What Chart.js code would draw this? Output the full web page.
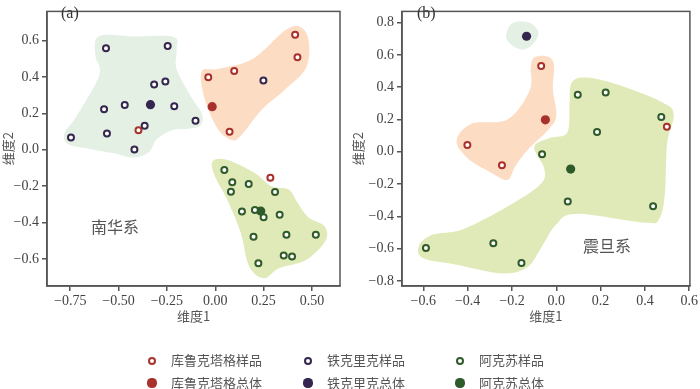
<!DOCTYPE html>
<html>
<head>
<meta charset="utf-8">
<script src="https://cdn.jsdelivr.net/npm/chart.js@4"></script>
<style>
body { margin: 0; background: #fff; }
#wrap { position: relative; width: 700px; height: 389px; overflow: hidden; font-family: "Liberation Serif", serif; }
.box { position: absolute; top: 0; width: 350px; height: 330px; }
.note { position: absolute; color: #555; font-size: 16px; font-family: "Noto Sans CJK SC", sans-serif; }
.tag { position: absolute; color: #333; font-size: 16px; font-family: "Liberation Serif", serif; }
#legend { position: absolute; left: 0; top: 346px; width: 700px; font-family: "Noto Sans CJK SC", sans-serif; font-size: 13px; color: #555; }
.item { position: absolute; white-space: nowrap; line-height: 14px; }
.mk { position: absolute; box-sizing: border-box; border-radius: 50%; }
</style>
</head>
<body>
<div id="wrap">
  <div class="box" style="left:0"><canvas id="chartA" width="350" height="330"></canvas></div>
  <div class="box" style="left:350px"><canvas id="chartB" width="350" height="330"></canvas></div>
  <div class="tag" style="left:61px;top:4px">(a)</div>
  <div class="tag" style="left:417px;top:4px">(b)</div>
  <div class="note" style="left:91px;top:214px">南华系</div>
  <div class="note" style="left:583px;top:233px">震旦系</div>
  <div id="legend"></div>
</div>
<script>
// colours
const RED = '#a8322b', PURPLE = '#34264f', GREEN = '#2f5a2a';
const MINT = '#e4f0e4', PEACH = '#fddcc4', LIME = '#e0eab8';

// ---- plot (a) 南华系 ----
const kuluSamplesA = [[-0.397,0.107],[-0.036,0.399],[0.098,0.433],[0.413,0.632],[0.425,0.508],[0.074,0.099],[0.285,-0.153]];
const kuluTotalA = [[-0.016,0.237]];
const tiekeSamplesA = [[-0.565,0.558],[-0.246,0.570],[-0.316,0.359],[-0.258,0.375],[-0.575,0.223],[-0.468,0.246],[-0.212,0.239],[-0.102,0.160],[-0.365,0.132],[-0.560,0.090],[-0.746,0.067],[-0.418,0.002],[0.249,0.380]];
const tiekeTotalA = [[-0.335,0.248]];
const akesuSamplesA = [[0.047,-0.111],[0.088,-0.178],[0.173,-0.188],[0.081,-0.231],[0.309,-0.232],[0.138,-0.339],[0.205,-0.331],[0.250,-0.371],[0.333,-0.357],[0.198,-0.477],[0.368,-0.466],[0.520,-0.466],[0.354,-0.580],[0.397,-0.586],[0.223,-0.623]];
const akesuTotalA = [[0.235,-0.336]];

const tiekeHullA = [[-0.6,0.625],[-0.41,0.622],[-0.215,0.62],[-0.2,0.55],[-0.2,0.443],[-0.13,0.3],[-0.07,0.2],[-0.075,0.135],[-0.14,0.115],[-0.22,0.109],[-0.3,0.06],[-0.345,-0.015],[-0.427,-0.043],[-0.53,-0.018],[-0.65,0.005],[-0.76,0.03],[-0.78,0.09],[-0.72,0.18],[-0.6,0.408],[-0.62,0.52]];
const kuluHullA = [[-0.07,0.43],[0.02,0.445],[0.195,0.5],[0.36,0.655],[0.44,0.675],[0.483,0.6],[0.47,0.45],[0.36,0.33],[0.24,0.22],[0.13,0.075],[0.08,0.055],[0.01,0.12],[-0.055,0.28]];
const akesuHullA = [[-0.015,-0.065],[0.06,-0.055],[0.2,-0.125],[0.29,-0.2],[0.38,-0.218],[0.425,-0.29],[0.48,-0.37],[0.565,-0.42],[0.57,-0.5],[0.47,-0.605],[0.33,-0.65],[0.25,-0.705],[0.175,-0.64],[0.13,-0.45],[0.06,-0.27],[0.0,-0.15]];

const xTicksA = [-0.75,-0.5,-0.25,0,0.25,0.5];
const yTicksA = [-0.6,-0.4,-0.2,0,0.2,0.4,0.6];

// ---- plot (b) 震旦系 ----
const kuluSamplesB = [[-0.068,0.532],[-0.401,0.042],[-0.245,-0.083],[0.499,0.155]];
const kuluTotalB = [[-0.049,0.198]];
const tiekeSamplesB = [];
const tiekeTotalB = [[-0.134,0.716]];
const akesuSamplesB = [[0.097,0.353],[0.223,0.367],[0.474,0.216],[0.184,0.123],[-0.064,-0.016],[0.052,-0.308],[0.437,-0.337],[-0.588,-0.597],[-0.284,-0.567],[-0.157,-0.690]];
const akesuTotalB = [[0.065,-0.107]];

const tiekeHullB = [[-0.2,0.795],[-0.12,0.8],[-0.08,0.735],[-0.115,0.655],[-0.165,0.635],[-0.225,0.7]];
const kuluHullB = [[-0.1,0.585],[-0.04,0.59],[-0.01,0.54],[-0.015,0.39],[0.0,0.22],[-0.04,0.13],[-0.13,0.01],[-0.185,-0.09],[-0.22,-0.175],[-0.3,-0.125],[-0.4,-0.04],[-0.45,0.07],[-0.38,0.175],[-0.22,0.2],[-0.12,0.38],[-0.115,0.52]];
const akesuHullB = [[0.07,0.43],[0.14,0.46],[0.29,0.41],[0.48,0.305],[0.53,0.23],[0.5,0.05],[0.49,-0.26],[0.465,-0.415],[0.4,-0.44],[0.09,-0.385],[0.0,-0.45],[-0.07,-0.6],[-0.13,-0.715],[-0.24,-0.755],[-0.45,-0.7],[-0.6,-0.66],[-0.62,-0.585],[-0.56,-0.515],[-0.42,-0.48],[-0.22,-0.34],[-0.07,-0.2],[-0.055,-0.1],[-0.1,0.03],[-0.03,0.085],[0.05,0.12],[0.06,0.3]];

const xTicksB = [-0.6,-0.4,-0.2,0,0.2,0.4,0.6];
const yTicksB = [-0.8,-0.6,-0.4,-0.2,0,0.2,0.4,0.6,0.8];

const legendLabels = ['库鲁克塔格样品','铁克里克样品','阿克苏样品','库鲁克塔格总体','铁克里克总体','阿克苏总体'];

const toXY = arr => arr.map(p => ({x: p[0], y: p[1]}));
const fmt = (v, d) => (v < 0 ? '\u2212' : '') + Math.abs(v).toFixed(d);

// smooth closed blobs (catmull-rom through the outline) behind the points, plus the box frame
const blobPlugin = {
  id: 'blobs',
  beforeDatasetsDraw(chart) {
    const {ctx, scales: {x, y}, chartArea: a} = chart;
    ctx.save();
    ctx.beginPath();
    ctx.rect(a.left, a.top, a.right - a.left, a.bottom - a.top);
    ctx.clip();
    chart.options.plugins.blobs.shapes.forEach(s => {
      const pts = s.pts.map(p => [x.getPixelForValue(p[0]), y.getPixelForValue(p[1])]);
      const n = pts.length;
      const P = i => pts[(i + n) % n];
      ctx.beginPath();
      ctx.moveTo(pts[0][0], pts[0][1]);
      for (let i = 0; i < n; i++) {
        const p0 = P(i - 1), p1 = P(i), p2 = P(i + 1), p3 = P(i + 2);
        ctx.bezierCurveTo(
          p1[0] + (p2[0] - p0[0]) / 6, p1[1] + (p2[1] - p0[1]) / 6,
          p2[0] - (p3[0] - p1[0]) / 6, p2[1] - (p3[1] - p1[1]) / 6,
          p2[0], p2[1]);
      }
      ctx.closePath();
      ctx.fillStyle = s.color;
      ctx.fill();
    });
    ctx.restore();
  },
  afterDraw(chart) {
    const {ctx, chartArea: a} = chart;
    ctx.save();
    ctx.strokeStyle = '#555';
    ctx.lineWidth = 1.5;
    ctx.strokeRect(a.left, a.top, a.right - a.left, a.bottom - a.top);
    ctx.restore();
  }
};

const ring = (data, color) => ({data: toXY(data), pointRadius: 3, pointBorderWidth: 2, borderColor: color, pointBorderColor: color, pointBackgroundColor: '#fff', pointHoverRadius: 3});
const dot = (data, color) => ({data: toXY(data), pointRadius: 4.6, pointBorderWidth: 0, pointBackgroundColor: color, borderColor: color, pointHoverRadius: 4.6});

const makeChart = (id, cfg) => new Chart(document.getElementById(id), {
  type: 'scatter',
  data: {datasets: [
    ring(cfg.kulu, RED), ring(cfg.tieke, PURPLE), ring(cfg.akesu, GREEN),
    dot(cfg.kuluT, RED), dot(cfg.tiekeT, PURPLE), dot(cfg.akesuT, GREEN)
  ]},
  plugins: [blobPlugin],
  options: {
    responsive: false,
    animation: false,
    layout: {padding: {top: 1, right: cfg.padRight, left: 0, bottom: 0}},
    plugins: {
      legend: {display: false},
      tooltip: {enabled: false},
      blobs: {shapes: cfg.hulls}
    },
    scales: {
      x: {
        type: 'linear', min: cfg.xMin, max: cfg.xMax,
        afterBuildTicks: s => { s.ticks = cfg.xTicks.map(v => ({value: v})); },
        afterFit: s => { s.height = 44; },
        grid: {drawOnChartArea: false, drawTicks: true, tickLength: 5, color: '#555', lineWidth: 1.5},
        border: {color: '#555', width: 1.5},
        ticks: {callback: v => fmt(v, cfg.xDec), font: {family: 'Liberation Serif', size: 14}, color: '#444', padding: 2, maxRotation: 0, autoSkip: false},
        title: {display: true, text: '维度1', font: {family: 'Noto Sans CJK SC', size: 13}, color: '#555', padding: {top: 2, bottom: 6}}
      },
      y: {
        type: 'linear', min: cfg.yMin, max: cfg.yMax,
        afterBuildTicks: s => { s.ticks = cfg.yTicks.map(v => ({value: v})); },
        afterFit: s => { s.width = cfg.yWidth; },
        grid: {drawOnChartArea: false, drawTicks: true, tickLength: 5, color: '#555', lineWidth: 1.5},
        border: {color: '#555', width: 1.5},
        ticks: {callback: v => fmt(v, 1), font: {family: 'Liberation Serif', size: 14}, color: '#444', padding: 3, autoSkip: false},
        title: {display: true, text: '维度2', font: {family: 'Noto Sans CJK SC', size: 13}, color: '#555', padding: {top: 0, bottom: 2}}
      }
    }
  }
});

makeChart('chartA', {
  kulu: kuluSamplesA, tieke: tiekeSamplesA, akesu: akesuSamplesA,
  kuluT: kuluTotalA, tiekeT: tiekeTotalA, akesuT: akesuTotalA,
  hulls: [{pts: tiekeHullA, color: MINT}, {pts: kuluHullA, color: PEACH}, {pts: akesuHullA, color: LIME}],
  xMin: -0.87, xMax: 0.645, yMin: -0.748, yMax: 0.76,
  xTicks: xTicksA, yTicks: yTicksA, xDec: 2, yWidth: 47, padRight: 10
});

makeChart('chartB', {
  kulu: kuluSamplesB, tieke: tiekeSamplesB, akesu: akesuSamplesB,
  kuluT: kuluTotalB, tiekeT: tiekeTotalB, akesuT: akesuTotalB,
  hulls: [{pts: tiekeHullB, color: MINT}, {pts: kuluHullB, color: PEACH}, {pts: akesuHullB, color: LIME}],
  xMin: -0.696, xMax: 0.603, yMin: -0.832, yMax: 0.87,
  xTicks: xTicksB, yTicks: yTicksB, xDec: 1, yWidth: 52, padRight: 7
});

// legend below both panels
const legendColors = [RED, PURPLE, GREEN, RED, PURPLE, GREEN];
const colX = [152, 308, 460];
const rowY = [14.5, 37];
const legendEl = document.getElementById('legend');
legendEl.innerHTML = legendLabels.map((t, i) => {
  const c = legendColors[i], col = i % 3, row = Math.floor(i / 3);
  const cx = colX[col], cy = rowY[row];
  const mk = row === 0
    ? `<span class="mk" style="left:${cx - 4}px;top:${cy - 4}px;width:8px;height:8px;border:2px solid ${c};background:#fff"></span>`
    : `<span class="mk" style="left:${cx - 4.6}px;top:${cy - 4.6}px;width:9.2px;height:9.2px;background:${c}"></span>`;
  return mk + `<span class="item" style="left:${cx + 19}px;top:${cy - 7.5}px">${t}</span>`;
}).join('');
</script>
</body>
</html>
